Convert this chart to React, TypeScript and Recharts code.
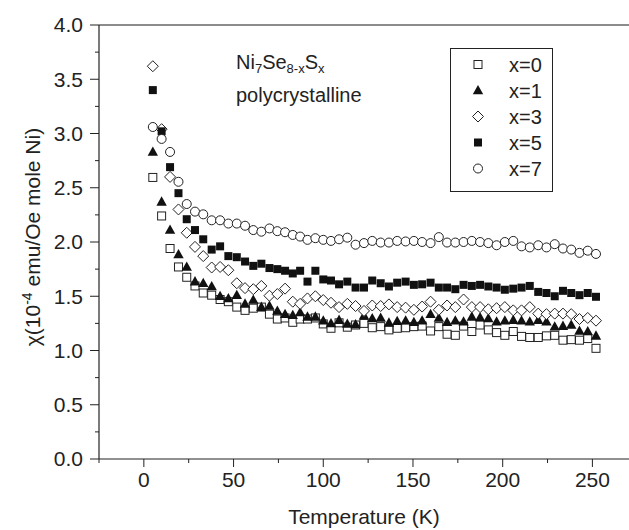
import React from 'react';
import { ScatterChart, Scatter, XAxis, YAxis, Legend, ReferenceLine } from 'recharts';

const temperature = [5, 9.9, 14.6, 19.3, 23.9, 28.5, 33.1, 37.8, 42.5, 47.1, 51.8, 56.4, 61, 65.5, 70, 74.4, 78.7, 83, 87.1, 91.2, 95.6, 100, 104.3, 108.8, 113.4, 118, 122.7, 127.3, 132, 136.6, 141.2, 145.9, 150.5, 155.1, 159.8, 164.4, 169, 173.6, 178.2, 182.8, 187.4, 192, 196.6, 201.2, 205.9, 210.5, 215.1, 219.8, 224.4, 229, 233.6, 238.2, 242.8, 247.4, 252];

const chiX0 = [2.595, 2.24, 1.94, 1.77, 1.675, 1.595, 1.53, 1.51, 1.47, 1.45, 1.40, 1.37, 1.39, 1.40, 1.335, 1.29, 1.30, 1.26, 1.29, 1.29, 1.30, 1.245, 1.205, 1.255, 1.215, 1.235, 1.25, 1.21, 1.22, 1.19, 1.205, 1.21, 1.22, 1.225, 1.18, 1.22, 1.15, 1.14, 1.225, 1.175, 1.235, 1.19, 1.165, 1.14, 1.175, 1.13, 1.12, 1.12, 1.135, 1.14, 1.095, 1.10, 1.095, 1.11, 1.02];
const chiX1 = [2.83, 2.37, 2.11, 1.885, 1.77, 1.635, 1.62, 1.59, 1.50, 1.48, 1.51, 1.43, 1.465, 1.40, 1.41, 1.365, 1.335, 1.325, 1.35, 1.31, 1.31, 1.275, 1.25, 1.28, 1.245, 1.24, 1.32, 1.295, 1.30, 1.255, 1.27, 1.275, 1.26, 1.275, 1.335, 1.30, 1.26, 1.275, 1.265, 1.31, 1.305, 1.295, 1.265, 1.275, 1.28, 1.275, 1.265, 1.28, 1.265, 1.22, 1.225, 1.235, 1.18, 1.175, 1.135];
const chiX3 = [3.62, 3.04, 2.60, 2.30, 2.085, 1.955, 1.87, 1.765, 1.77, 1.74, 1.62, 1.575, 1.565, 1.595, 1.505, 1.52, 1.57, 1.45, 1.43, 1.48, 1.50, 1.465, 1.44, 1.40, 1.43, 1.41, 1.365, 1.415, 1.41, 1.425, 1.40, 1.395, 1.375, 1.405, 1.45, 1.375, 1.415, 1.40, 1.47, 1.40, 1.40, 1.38, 1.39, 1.40, 1.37, 1.37, 1.40, 1.34, 1.335, 1.34, 1.34, 1.335, 1.29, 1.30, 1.275];
const chiX5 = [3.40, 3.02, 2.69, 2.45, 2.21, 2.11, 2.025, 1.93, 1.96, 1.87, 1.86, 1.82, 1.78, 1.80, 1.76, 1.75, 1.735, 1.71, 1.735, 1.635, 1.735, 1.655, 1.645, 1.61, 1.635, 1.58, 1.58, 1.645, 1.62, 1.59, 1.625, 1.635, 1.605, 1.61, 1.625, 1.58, 1.58, 1.565, 1.605, 1.595, 1.605, 1.59, 1.58, 1.56, 1.57, 1.58, 1.595, 1.54, 1.53, 1.50, 1.55, 1.53, 1.51, 1.53, 1.495];
const chiX7 = [3.06, 2.95, 2.83, 2.555, 2.35, 2.28, 2.255, 2.20, 2.20, 2.17, 2.17, 2.15, 2.11, 2.095, 2.125, 2.10, 2.09, 2.065, 2.05, 2.02, 2.035, 2.02, 2.01, 2.025, 2.04, 1.975, 1.99, 2.01, 1.995, 1.995, 2.01, 2.005, 2.01, 2.00, 1.99, 2.045, 1.995, 1.995, 2.00, 2.01, 2.00, 1.99, 1.97, 2.00, 2.01, 1.96, 1.95, 1.97, 1.95, 1.98, 1.94, 1.93, 1.90, 1.92, 1.89];

const seriesNames = ['x=0', 'x=1', 'x=3', 'x=5', 'x=7'];
const seriesMarkers = ['openSquare', 'triangle', 'diamond', 'filledSquare', 'openCircle'];
const seriesValues = [chiX0, chiX1, chiX3, chiX5, chiX7];

const xTicks = [-25, 0, 25, 50, 75, 100, 125, 150, 175, 200, 225, 250];
const yTicks = [0, 0.25, 0.5, 0.75, 1, 1.25, 1.5, 1.75, 2, 2.25, 2.5, 2.75, 3, 3.25, 3.5, 3.75, 4];

const FONT = '"Liberation Sans", Arial, Helvetica, sans-serif';
const INK = '#222';
const X_TICK_SIZE = 8;
const X_TICK_MARGIN = 5;
const Y_TICK_SIZE = 9;
const Y_TICK_MARGIN = 7;

const Marker = ({ kind, cx, cy }: { kind: string; cx: number; cy: number }) => {
  if (cx == null || cy == null) return null;
  switch (kind) {
    case 'openSquare':
      return <rect x={cx - 4} y={cy - 4} width={8} height={8} fill="#fff" stroke={INK} strokeWidth={1} />;
    case 'triangle':
      return <polygon points={`${cx},${cy - 5.5} ${cx + 5.2},${cy + 3.8} ${cx - 5.2},${cy + 3.8}`} fill="#111" />;
    case 'diamond':
      return <polygon points={`${cx},${cy - 5.5} ${cx + 5.5},${cy} ${cx},${cy + 5.5} ${cx - 5.5},${cy}`} fill="#fff" stroke={INK} strokeWidth={1} />;
    case 'filledSquare':
      return <rect x={cx - 4} y={cy - 4} width={8} height={8} fill="#111" />;
    default:
      return <circle cx={cx} cy={cy} r={4.5} fill="#fff" stroke={INK} strokeWidth={1} />;
  }
};

const XTick = (props: any) => {
  const { x, y, payload } = props;
  const v = payload.value;
  const major = Math.abs(v % 50) < 1e-6;
  const axisY = y - X_TICK_SIZE - X_TICK_MARGIN;
  return (
    <g>
      <line x1={x} x2={x} y1={axisY} y2={axisY + (major ? X_TICK_SIZE : 4)} stroke={INK} strokeWidth={1} />
      {major && (
        <text x={x} y={y} dy="0.71em" textAnchor="middle" fill={INK} fontSize={21} fontFamily={FONT}>
          {v}
        </text>
      )}
    </g>
  );
};

const YTick = (props: any) => {
  const { x, y, payload } = props;
  const v = payload.value;
  const major = Math.abs(v * 2 - Math.round(v * 2)) < 1e-6;
  const axisX = x + Y_TICK_SIZE + Y_TICK_MARGIN;
  return (
    <g>
      <line x1={axisX} x2={axisX - (major ? Y_TICK_SIZE : 4)} y1={y} y2={y} stroke={INK} strokeWidth={1} />
      {major && (
        <text x={x} y={y} dy="0.355em" textAnchor="end" fill={INK} fontSize={21} fontFamily={FONT}>
          {v.toFixed(1)}
        </text>
      )}
    </g>
  );
};

const YTitle = (props: any) => {
  const vb = props.viewBox || { x: 0, y: 25, width: 99, height: 434 };
  const cx = vb.x + 40;
  const cy = vb.y + vb.height / 2 - 5;
  return (
    <text x={cx} y={cy} transform={`rotate(-90 ${cx} ${cy})`} textAnchor="middle" fill={INK} fontSize={21} fontFamily={FONT}>
      <tspan>χ(10</tspan>
      <tspan fontSize={14} dy={-8}>-4</tspan>
      <tspan dy={8}> emu/Oe mole Ni)</tspan>
    </text>
  );
};

const XTitle = (props: any) => {
  const vb = props.viewBox || { x: 99, y: 459, width: 530, height: 60 };
  const cx = vb.x + vb.width / 2;
  return (
    <text x={cx} y={524} textAnchor="middle" fill={INK} fontSize={21} fontFamily={FONT}>
      Temperature (K)
    </text>
  );
};

const LegendBox = () => (
  <svg width={101} height={142} style={{ display: 'block' }}>
    {seriesNames.map((name, i) => {
      const cy = 15.5 + i * 26;
      return (
        <g key={name}>
          <Marker kind={seriesMarkers[i]} cx={27} cy={cy} />
          <text x={58} y={cy} dy="0.355em" fill={INK} fontSize={20} fontFamily={FONT}>
            {name}
          </text>
        </g>
      );
    })}
  </svg>
);

export default function App() {
  const datasets = seriesValues.map((vals) => temperature.map((t, i) => ({ t, chi: vals[i] })));
  return (
    <div style={{ position: 'absolute', left: 0, top: 0, width: 629, height: 530, background: '#fff' }}>
      <ScatterChart width={629} height={530} margin={{ top: 25, right: 0, bottom: 11, left: 0 }}>
        <XAxis
          type="number"
          dataKey="t"
          domain={[-25, 270.4]}
          ticks={xTicks}
          interval={0}
          allowDataOverflow
          height={60}
          tickSize={X_TICK_SIZE}
          tickMargin={X_TICK_MARGIN}
          tickLine={false}
          tick={<XTick />}
          axisLine={{ stroke: INK, strokeWidth: 1.2 }}
          label={<XTitle />}
        />
        <YAxis
          type="number"
          dataKey="chi"
          domain={[0, 4]}
          ticks={yTicks}
          interval={0}
          allowDataOverflow
          width={99}
          tickSize={Y_TICK_SIZE}
          tickMargin={Y_TICK_MARGIN}
          tickLine={false}
          tick={<YTick />}
          axisLine={{ stroke: INK, strokeWidth: 1.2 }}
          label={<YTitle />}
        />
        <ReferenceLine y={4} stroke="#666" strokeWidth={1.5} />
        {datasets.map((d, i) => (
          <Scatter
            key={seriesNames[i]}
            name={seriesNames[i]}
            data={d}
            isAnimationActive={false}
            shape={(p: any) => <Marker kind={seriesMarkers[i]} cx={p.cx} cy={p.cy} />}
          />
        ))}
        <Legend
          layout="vertical"
          align="center"
          verticalAlign="middle"
          content={() => <LegendBox />}
          wrapperStyle={{
            position: 'absolute',
            left: 450,
            top: 48,
            width: 103,
            height: 144,
            border: '1px solid #222',
            background: '#fff',
            boxSizing: 'border-box',
          }}
        />
      </ScatterChart>
      <svg width={629} height={530} style={{ position: 'absolute', left: 0, top: 0, pointerEvents: 'none' }}>
        <text x={236} y={69} fill={INK} fontSize={20} fontFamily={FONT}>
          <tspan>Ni</tspan>
          <tspan fontSize={13} dy={4}>7</tspan>
          <tspan dy={-4}>Se</tspan>
          <tspan fontSize={13} dy={4}>8-x</tspan>
          <tspan dy={-4}>S</tspan>
          <tspan fontSize={13} dy={4}>x</tspan>
        </text>
        <text x={236} y={102} fill={INK} fontSize={20} fontFamily={FONT}>
          polycrystalline
        </text>
      </svg>
    </div>
  );
}
